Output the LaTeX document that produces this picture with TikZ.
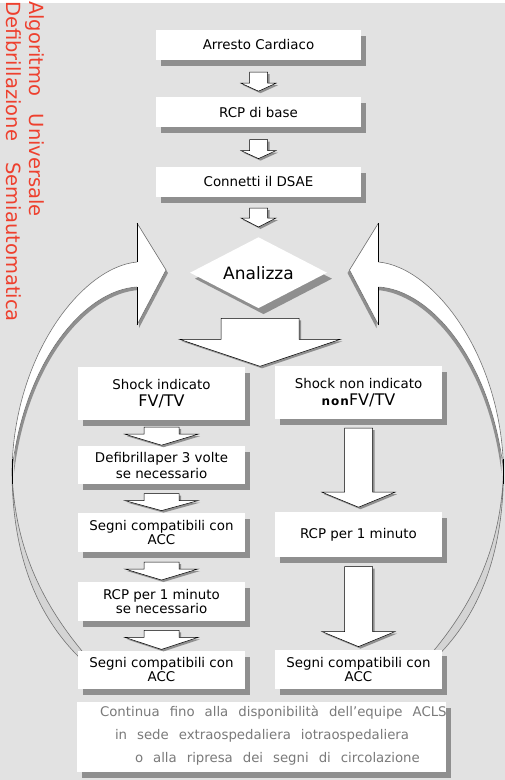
\documentclass[tikz,border=0pt]{standalone}
\usepackage{fontspec}
\setmainfont{DejaVu Sans}
\usepackage{tikz}
\usetikzlibrary{shapes.geometric,positioning,calc,shadows}
\definecolor{bggrey}{RGB}{226,226,226}
\definecolor{shadowgrey}{RGB}{143,143,143}
\definecolor{bandgrey}{RGB}{212,212,212}
\definecolor{titlered}{RGB}{238,64,46}
\definecolor{notegrey}{RGB}{122,122,122}
\tikzstyle{stepbox} = [rectangle, fill=white, inner sep=1pt, align=center,
    font=\fontsize{13.4}{14.5}\selectfont,
    drop shadow={shadow xshift=5pt, shadow yshift=-6pt, fill=shadowgrey, opacity=1}]
\tikzstyle{topbox} = [stepbox, minimum width=205, minimum height=30]
\tikzstyle{colbox} = [stepbox, minimum width=167, minimum height=38]
\tikzstyle{decision} = [diamond, aspect=2, fill=white, inner sep=0pt,
    minimum width=137, minimum height=71, font=\fontsize{17}{20}\selectfont,
    drop shadow={shadow xshift=5pt, shadow yshift=-6pt, fill=shadowgrey, opacity=1}]
\tikzstyle{notebox} = [rectangle, fill=white, minimum width=369, minimum height=70,
    drop shadow={shadow xshift=5pt, shadow yshift=-6pt, fill=shadowgrey, opacity=1}]
\tikzstyle{notetext} = [inner sep=0pt, align=left, text=notegrey,
    font={\fontsize{13.3}{23}\selectfont\spaceskip=0.75em\relax}]
\tikzstyle{titletext} = [inner sep=0pt, rotate=-90, anchor=base west, text=titlered,
    font=\fontsize{19.5}{22}\selectfont]
\tikzstyle{blockarrow} = [fill=white, draw=black, line width=0.5pt,
    drop shadow={shadow xshift=2pt, shadow yshift=-2pt, fill=shadowgrey, opacity=1}]
\tikzstyle{ribbonface} = [fill=white]
\tikzstyle{ribbonedge} = [draw=black!55, line width=0.6pt]
\tikzstyle{ribbonback} = [fill=bandgrey, draw=black!55, line width=0.6pt]
% block arrow: from node, tip, gap, shaft half width, head half width, head length
\newcommand{\blockdown}[6]{%
  \path[blockarrow] let \p1=($(#1.south)+(0,-#3)$), \p2=(#2) in
    (\x2-#4,\y1) -- (\x2+#4,\y1) -- (\x2+#4,\y2+#6) -- (\x2+#5,\y2+#6)
    -- (\x2,\y2) -- (\x2-#5,\y2+#6) -- (\x2-#4,\y2+#6) -- cycle;
}
% curved return arrow (left one, mirrored for the right)
\newcommand{\loopribbon}{%
  \path[ribbonback] (12,-470) .. controls (12,-560) and (40,-620) .. (82,-660)
    -- (82,-651) .. controls (45,-606) and (14,-550) .. (12,-470) -- cycle;
  \fill[shadowgrey, shift={(2,-3)}] (137,-262) .. controls (82,-267) and (14,-355) .. (12,-470)
    .. controls (25,-360) and (85,-290) .. (137,-287) -- (137,-325) -- (166,-270) -- (137,-223) -- cycle;
  \fill[ribbonface] (137,-262) .. controls (82,-267) and (14,-355) .. (12,-470)
    .. controls (25,-360) and (85,-290) .. (137,-287) -- (137,-325) -- (166,-270) -- (137,-223) -- cycle;
  \draw[ribbonedge] (137,-262) .. controls (82,-267) and (14,-355) .. (12,-470)
    .. controls (25,-360) and (85,-290) .. (137,-287);
  \draw[ribbonedge] (137,-325) -- (166,-270) -- (137,-223);
  \draw[black, line width=0.6pt] (137,-223) -- (137,-262) (137,-287) -- (137,-325);
  \draw[black, line width=0.8pt] (12.5,-459) -- (12.5,-484);
}
\begin{document}
\begin{tikzpicture}[x=1pt, y=1pt]
  \useasboundingbox (0,0) rectangle (505,-780);
  \fill[bggrey] (0,-3) rectangle (505,-780);
  % Title
  \node[titletext] (titleA) at (29,-1) {Algoritmo\hspace{0.9em}Universale};
  \node[titletext] (titleB) at (6,-1) {Defibrillazione\hspace{1.1em}Semiautomatica};
  % Return arrows
  \loopribbon
  \begin{scope}[shift={(515.5,0)}, xscale=-1]
    \loopribbon
  \end{scope}
  % Place nodes
  \node[topbox] (arresto) at (258.5,-45) {Arresto Cardiaco};
  \node[topbox, below=37pt of arresto] (rcpbase) {RCP di base};
  \node[topbox, below=39pt of rcpbase] (connetti) {Connetti il DSAE};
  \node[decision, below=40pt of connetti] (analizza) {Analizza};
  \node[colbox, minimum height=53] (shockyes) at (161.5,-393.5)
    {Shock indicato\\[2pt]{\fontsize{16}{18}\selectfont FV/TV}};
  \node[colbox, minimum height=53] (shockno) at (358.5,-392.5)
    {Shock non indicato\\[2pt]{\bfseries\fontsize{12}{14}\selectfont n\kern1pt o\kern1pt n}{\fontsize{16}{18}\selectfont FV/TV}};
  \node[colbox, below=26pt of shockyes] (defib) {Defibrillaper 3 volte\\[1pt]se necessario};
  \node[colbox, minimum height=39, below=28pt of defib] (segniA) {Segni compatibili con\\ACC};
  \node[colbox, minimum height=39, below=30pt of segniA] (rcpmin) {RCP per 1 minuto\\se necessario};
  \node[colbox, below=29pt of rcpmin] (segniB) {Segni compatibili con\\ACC};
  \node[colbox, minimum height=45, below=93pt of shockno] (rcpone) {RCP per 1 minuto};
  \node[colbox, minimum height=39, below=92pt of rcpone] (segniC) {Segni compatibili con\\ACC};
  \node[notebox] (finalbox) at (261.5,-737) {};
  \node[notetext, anchor=north west] (finalnote) at ($(finalbox.north west)+(23,-4)$)
    {Continua fino alla disponibilità dell’equipe ACLS\\
     \hspace*{15pt}in sede extraospedaliera iotraospedaliera\\
     \hspace*{35pt}o alla ripresa dei segni di circolazione};
  % Draw arrows
  \blockdown{arresto}{$(rcpbase.north)+(0,6)$}{12}{9}{17.5}{8}
  \blockdown{rcpbase}{$(connetti.north)+(0,8)$}{12}{9}{17.5}{8}
  \blockdown{connetti}{$(analizza.north)+(0,10)$}{11}{9}{17.5}{9}
  \blockdown{analizza}{$(shockyes.north)!0.5!(shockno.north)$}{10}{39}{80.5}{27}
  \blockdown{shockyes}{$(defib.north)+(0,1)$}{7}{17.5}{36.5}{11}
  \blockdown{defib}{$(segniA.north)+(0,2)$}{9}{17.5}{36.5}{10}
  \blockdown{segniA}{$(rcpmin.north)+(0,2)$}{10}{17.5}{36.5}{11}
  \blockdown{rcpmin}{$(segniB.north)+(0,1)$}{9}{17.5}{36.5}{12}
  \blockdown{shockno}{$(rcpone.north)+(0,5)$}{9}{14}{36.5}{15}
  \blockdown{rcpone}{$(segniC.north)+(0,3)$}{9}{14}{36.5}{15}
\end{tikzpicture}
\end{document}
